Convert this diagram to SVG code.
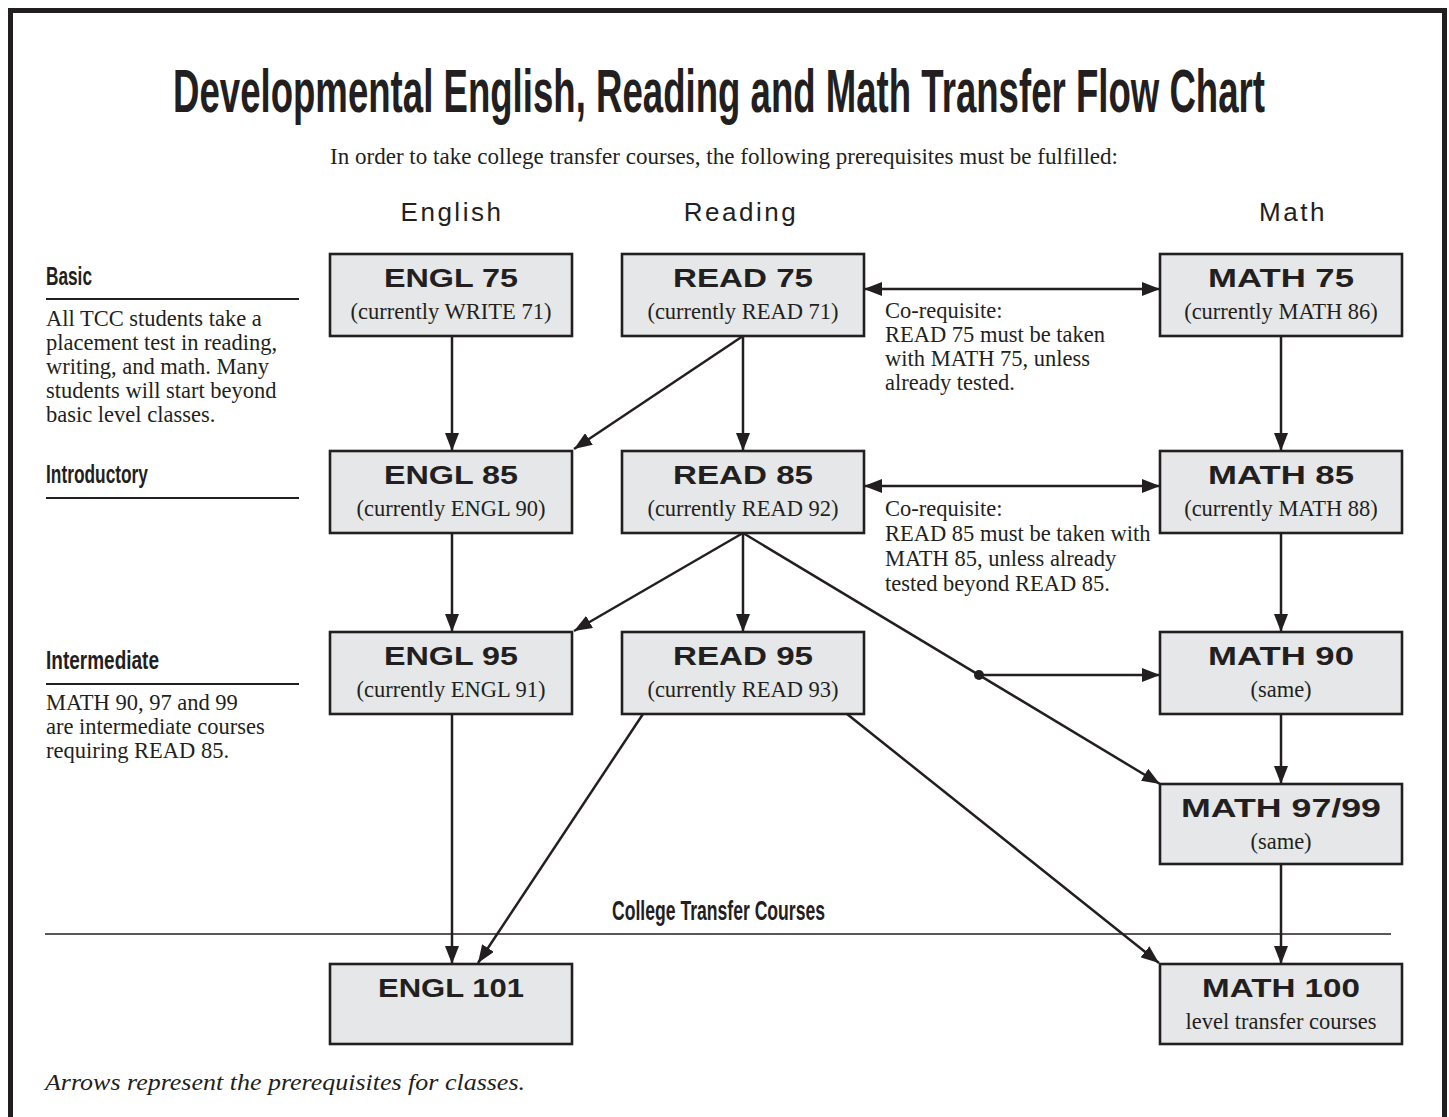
<svg xmlns="http://www.w3.org/2000/svg" width="1449" height="1117" viewBox="0 0 1449 1117">
<style>
.cond{font-family:"Liberation Sans Narrow","Liberation Sans",Arial,sans-serif;font-weight:700;fill:#231f20}
.serif{font-family:"Liberation Serif","Times New Roman",serif;font-size:22.5px;fill:#231f20}
.hdr{font-family:"Liberation Sans",Arial,sans-serif;font-size:26px;fill:#231f20;text-anchor:middle;letter-spacing:2.5px}
.box rect{fill:#e6e7e8;stroke:#231f20;stroke-width:2.6}
.lbl{font-family:"Liberation Sans",Arial,sans-serif;font-weight:900;font-size:25px;fill:#231f20;text-anchor:middle}
.sub{font-family:"Liberation Serif","Times New Roman",serif;font-size:22.5px;fill:#231f20;text-anchor:middle}
.conn line{stroke:#231f20;stroke-width:2.5;fill:none}
.rule{stroke:#231f20;stroke-width:2}
</style>
<defs>
<marker id="ah" viewBox="0 0 18 14" markerWidth="18" markerHeight="14" refX="18" refY="7" orient="auto-start-reverse" markerUnits="userSpaceOnUse"><path d="M0,0 L18,7 L0,14 z" fill="#231f20"/></marker>
</defs>
<rect x="0" y="0" width="1449" height="1117" fill="#fff"/>
<rect x="10.5" y="10.5" width="1434" height="1200" fill="none" stroke="#231f20" stroke-width="5"/>

<text class="cond" transform="translate(173,112) scale(1,1.5)" x="0" y="0" font-size="41" textLength="1092" lengthAdjust="spacingAndGlyphs">Developmental English, Reading and Math Transfer Flow Chart</text>
<text class="serif" x="330" y="164" textLength="788" lengthAdjust="spacingAndGlyphs">In order to take college transfer courses, the following prerequisites must be fulfilled:</text>

<text class="hdr" x="452" y="221">English</text>
<text class="hdr" x="741" y="221">Reading</text>
<text class="hdr" x="1293" y="221">Math</text>

<g id="basic">
<text class="cond" x="46" y="285" font-size="25" textLength="46" lengthAdjust="spacingAndGlyphs">Basic</text>
<line class="rule" x1="46" y1="299" x2="299" y2="299"/>
<text class="serif" x="46" y="326">All TCC students take a</text>
<text class="serif" x="46" y="350">placement test in reading,</text>
<text class="serif" x="46" y="374">writing, and math. Many</text>
<text class="serif" x="46" y="398">students will start beyond</text>
<text class="serif" x="46" y="422">basic level classes.</text>
</g>
<g id="introductory">
<text class="cond" x="46" y="483" font-size="25" textLength="102" lengthAdjust="spacingAndGlyphs">Introductory</text>
<line class="rule" x1="46" y1="498" x2="299" y2="498"/>
</g>
<g id="intermediate">
<text class="cond" x="46" y="669" font-size="25" textLength="113" lengthAdjust="spacingAndGlyphs">Intermediate</text>
<line class="rule" x1="46" y1="684" x2="299" y2="684"/>
<text class="serif" x="46" y="710">MATH 90, 97 and 99</text>
<text class="serif" x="46" y="734">are intermediate courses</text>
<text class="serif" x="46" y="758">requiring READ 85.</text>
</g>

<g id="coreq75">
<text class="serif" x="885" y="318">Co-requisite:</text>
<text class="serif" x="885" y="342">READ 75 must be taken</text>
<text class="serif" x="885" y="366">with MATH 75, unless</text>
<text class="serif" x="885" y="390">already tested.</text>
</g>
<g id="coreq85">
<text class="serif" x="885" y="516">Co-requisite:</text>
<text class="serif" x="885" y="541">READ 85 must be taken with</text>
<text class="serif" x="885" y="566">MATH 85, unless already</text>
<text class="serif" x="885" y="591">tested beyond READ 85.</text>
</g>

<g id="transfer-line">
<text class="cond" x="612" y="920" font-size="28" textLength="213" lengthAdjust="spacingAndGlyphs">College Transfer Courses</text>
<line x1="45" y1="934" x2="1391" y2="934" stroke="#231f20" stroke-width="1.6"/>
</g>

<g class="conn" id="connectors">
<line x1="452" y1="336" x2="452" y2="451" marker-end="url(#ah)"/>
<line x1="743" y1="336" x2="743" y2="451" marker-end="url(#ah)"/>
<line x1="743" y1="336" x2="574" y2="449" marker-end="url(#ah)"/>
<line x1="864" y1="289" x2="1160" y2="289" marker-start="url(#ah)" marker-end="url(#ah)"/>
<line x1="1281" y1="336" x2="1281" y2="451" marker-end="url(#ah)"/>
<line x1="864" y1="486" x2="1160" y2="486" marker-start="url(#ah)" marker-end="url(#ah)"/>
<line x1="452" y1="533" x2="452" y2="632" marker-end="url(#ah)"/>
<line x1="743" y1="533" x2="743" y2="632" marker-end="url(#ah)"/>
<line x1="743" y1="533" x2="574" y2="631" marker-end="url(#ah)"/>
<line x1="743" y1="533" x2="1160" y2="784" marker-end="url(#ah)"/>
<line x1="979" y1="675" x2="1160" y2="675" marker-end="url(#ah)"/>
<circle cx="979" cy="675" r="5" fill="#231f20"/>
<line x1="1281" y1="533" x2="1281" y2="632" marker-end="url(#ah)"/>
<line x1="1281" y1="714" x2="1281" y2="784" marker-end="url(#ah)"/>
<line x1="1281" y1="864" x2="1281" y2="964" marker-end="url(#ah)"/>
<line x1="452" y1="714" x2="452" y2="964" marker-end="url(#ah)"/>
<line x1="643" y1="714" x2="478" y2="963" marker-end="url(#ah)"/>
<line x1="847" y1="714" x2="1159" y2="963" marker-end="url(#ah)"/>
</g>

<g class="box" id="engl75"><rect x="330" y="254" width="242" height="82"/><text class="lbl" x="451" y="287" textLength="134" lengthAdjust="spacingAndGlyphs">ENGL 75</text><text class="sub" x="451" y="319">(currently WRITE 71)</text></g>
<g class="box" id="read75"><rect x="622" y="254" width="242" height="82"/><text class="lbl" x="743" y="287" textLength="140" lengthAdjust="spacingAndGlyphs">READ 75</text><text class="sub" x="743" y="319">(currently READ 71)</text></g>
<g class="box" id="math75"><rect x="1160" y="254" width="242" height="82"/><text class="lbl" x="1281" y="287" textLength="146" lengthAdjust="spacingAndGlyphs">MATH 75</text><text class="sub" x="1281" y="319">(currently MATH 86)</text></g>

<g class="box" id="engl85"><rect x="330" y="451" width="242" height="82"/><text class="lbl" x="451" y="484" textLength="134" lengthAdjust="spacingAndGlyphs">ENGL 85</text><text class="sub" x="451" y="516">(currently ENGL 90)</text></g>
<g class="box" id="read85"><rect x="622" y="451" width="242" height="82"/><text class="lbl" x="743" y="484" textLength="140" lengthAdjust="spacingAndGlyphs">READ 85</text><text class="sub" x="743" y="516">(currently READ 92)</text></g>
<g class="box" id="math85"><rect x="1160" y="451" width="242" height="82"/><text class="lbl" x="1281" y="484" textLength="146" lengthAdjust="spacingAndGlyphs">MATH 85</text><text class="sub" x="1281" y="516">(currently MATH 88)</text></g>

<g class="box" id="engl95"><rect x="330" y="632" width="242" height="82"/><text class="lbl" x="451" y="665" textLength="134" lengthAdjust="spacingAndGlyphs">ENGL 95</text><text class="sub" x="451" y="697">(currently ENGL 91)</text></g>
<g class="box" id="read95"><rect x="622" y="632" width="242" height="82"/><text class="lbl" x="743" y="665" textLength="140" lengthAdjust="spacingAndGlyphs">READ 95</text><text class="sub" x="743" y="697">(currently READ 93)</text></g>
<g class="box" id="math90"><rect x="1160" y="632" width="242" height="82"/><text class="lbl" x="1281" y="665" textLength="146" lengthAdjust="spacingAndGlyphs">MATH 90</text><text class="sub" x="1281" y="697">(same)</text></g>

<g class="box" id="math9799"><rect x="1160" y="784" width="242" height="80"/><text class="lbl" x="1281" y="817" textLength="200" lengthAdjust="spacingAndGlyphs">MATH 97/99</text><text class="sub" x="1281" y="849">(same)</text></g>

<g class="box" id="engl101"><rect x="330" y="964" width="242" height="80"/><text class="lbl" x="451" y="997" textLength="146" lengthAdjust="spacingAndGlyphs">ENGL 101</text></g>
<g class="box" id="math100"><rect x="1160" y="964" width="242" height="80"/><text class="lbl" x="1281" y="997" textLength="158" lengthAdjust="spacingAndGlyphs">MATH 100</text><text class="sub" x="1281" y="1029">level transfer courses</text></g>

<text class="serif" x="45" y="1090" font-style="italic" textLength="480" lengthAdjust="spacingAndGlyphs">Arrows represent the prerequisites for classes.</text>
</svg>
